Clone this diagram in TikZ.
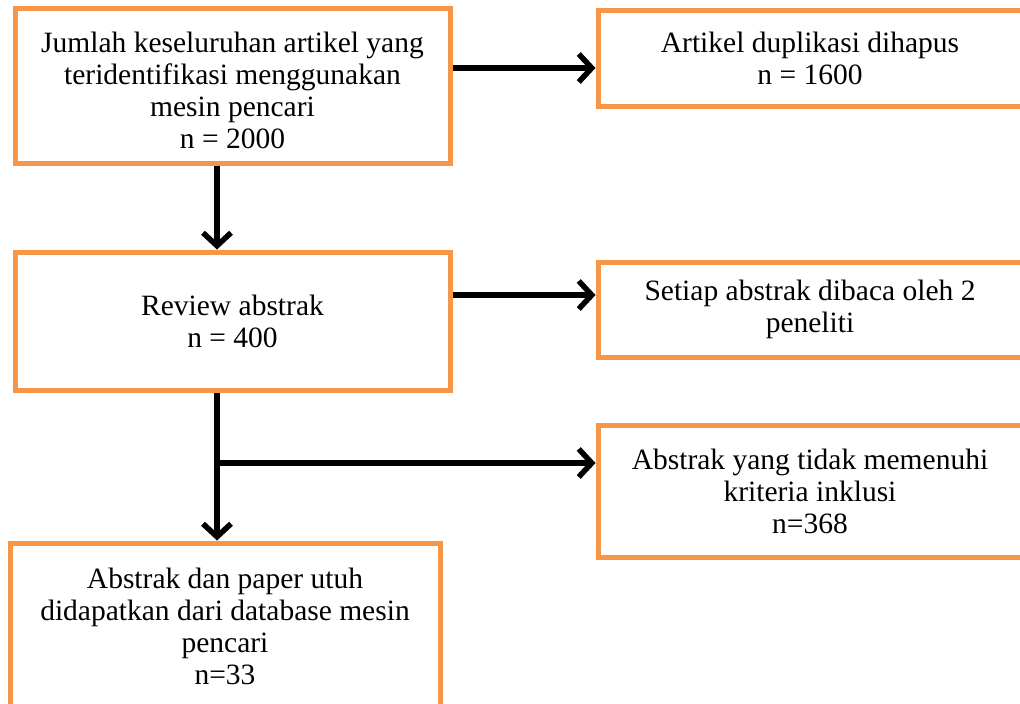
\documentclass[tikz,border=0pt]{standalone}
\usepackage{fontspec}
\setmainfont{Liberation Serif}
\usepackage{tikz}
\usetikzlibrary{arrows.meta,positioning,calc}
\definecolor{oranye}{HTML}{F79646}

\tikzset{
    kotak/.style={draw=oranye, line width=5pt, align=center, font=\fontsize{29.5}{32}\selectfont},
    panah/.style={line width=5.5pt, -{Straight Barb[length=13pt,width=28pt,line width=5.5pt]}}
}

\begin{document}
\begin{tikzpicture}[x=1pt, y=-1pt]
    \useasboundingbox (0,0) rectangle (1020,704);

    % Boxes on the left
    \node[kotak, minimum width=435pt, minimum height=155pt] (jumlah) at (232.5,85.5)
        {\rule{0pt}{30pt}Jumlah keseluruhan artikel yang\\teridentifikasi menggunakan\\mesin pencari\\n = 2000};
    \node[kotak, minimum width=435pt, minimum height=138pt] (review) at (232.5,321)
        {Review abstrak\\n = 400};
    \node[kotak, minimum width=430pt, minimum height=166pt] (paper) at (225,626)
        {Abstrak dan paper utuh\\didapatkan dari database mesin\\pencari\\n=33};

    % Boxes on the right
    \node[kotak, minimum width=424pt, minimum height=96pt] (duplikasi) at (810,58)
        {Artikel duplikasi dihapus\\n = 1600};
    \node[kotak, minimum width=424pt, minimum height=95pt] (setiap) at (810,309.5)
        {Setiap abstrak dibaca oleh 2\\peneliti};
    \node[kotak, minimum width=424pt, minimum height=132pt] (inklusi) at (810,491)
        {Abstrak yang tidak memenuhi\\kriteria inklusi\\n=368};

    % Arrows
    \coordinate (cabang) at (217,463);
    \draw[panah] (jumlah.east |- 0,68) -- (duplikasi.west |- 0,68);
    \draw[panah] (jumlah.south -| cabang) -- (review.north -| cabang);
    \draw[panah] (review.east |- 0,295) -- (setiap.west |- 0,295);
    \draw[panah] (review.south -| cabang) -- (paper.north -| cabang);
    \draw[panah] (cabang) -- (inklusi.west |- cabang);
\end{tikzpicture}
\end{document}
